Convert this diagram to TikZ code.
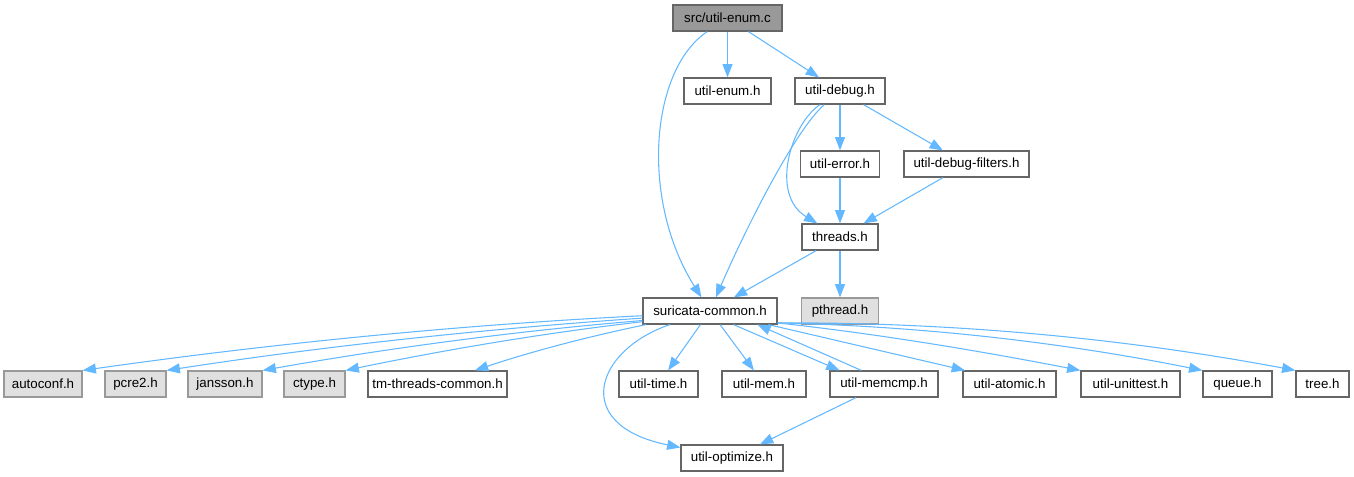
\documentclass[tikz,border=0pt]{standalone}
\usepackage{fontspec}
\setmainfont{Liberation Sans}
\usetikzlibrary{arrows.meta}
\definecolor{edgeblue}{RGB}{99,184,255}
\definecolor{boxline}{RGB}{102,102,102}
\definecolor{extline}{RGB}{153,153,153}
\definecolor{extfill}{RGB}{224,224,224}
\definecolor{rootfill}{RGB}{153,153,153}

\begin{document}
\begin{tikzpicture}[x=0.75pt,y=0.75pt,yscale=-1,xscale=1,
  file/.style={draw=boxline,fill=white,line width=0.9pt,minimum height=19.5pt,inner xsep=1pt,font=\fontsize{10}{12}\selectfont},
  sysfile/.style={file,draw=extline,fill=extfill},
  rootfile/.style={file,fill=rootfill},
  bw/.style={minimum width=#1*0.75pt},
  incl/.style={draw=edgeblue,line width=0.8pt,-{Triangle[length=10pt,width=7.5pt]}}]
\useasboundingbox (0,0) rectangle (1354,476);

%Files: top rows
\node[rootfile,bw=109] (enumc) at (727.5,18) {src/util-enum.c};
\node[file,bw=87] (enumh) at (727.5,91) {util-enum.h};
\node[file,bw=90] (debugh) at (840,91) {util-debug.h};
\node[file,bw=79] (errorh) at (840,164) {util-error.h};
\node[file,bw=125] (filtersh) at (966.5,164) {util-debug-filters.h};
\node[file,bw=76] (threadsh) at (840,237) {threads.h};
\node[file,bw=134] (commonh) at (710,311) {suricata-common.h};
\node[sysfile,bw=77] (pthreadh) at (840,311) {pthread.h};

%Files: bottom rows
\node[sysfile,bw=78] (autoconfh) at (43,384) {autoconf.h};
\node[sysfile,bw=61] (pcreh) at (135.5,384) {pcre2.h};
\node[sysfile,bw=74] (janssonh) at (225,384) {jansson.h};
\node[sysfile,bw=61] (ctypeh) at (314.5,384) {ctype.h};
\node[file,bw=139] (tmthreadsh) at (437.5,384) {tm-threads-common.h};
\node[file,bw=79] (timeh) at (658.5,384) {util-time.h};
\node[file,bw=84] (memh) at (764,384) {util-mem.h};
\node[file,bw=108] (memcmph) at (884,384) {util-memcmp.h};
\node[file,bw=93] (atomich) at (1009.5,384) {util-atomic.h};
\node[file,bw=99] (unittesth) at (1130.5,384) {util-unittest.h};
\node[file,bw=69] (queueh) at (1237.5,384) {queue.h};
\node[file,bw=53] (treeh) at (1322.5,384) {tree.h};
\node[file,bw=102] (optimizeh) at (732,458) {util-optimize.h};

%Includes of src/util-enum.c and util-debug.h
\draw[incl] (enumc) .. controls (650,70) and (640,200) .. (commonh);
\draw[incl] (enumc) -- (enumh);
\draw[incl] (enumc) -- (debugh);
\draw[incl] (debugh) .. controls (795,130) and (745,230) .. (commonh);
\draw[incl] (debugh) .. controls (790,125) and (770,195) .. (threadsh);
\draw[incl] (debugh) -- (errorh);
\draw[incl] (debugh) -- (filtersh);
\draw[incl] (errorh) -- (threadsh);
\draw[incl] (filtersh) -- (threadsh);
\draw[incl] (threadsh) -- (commonh);
\draw[incl] (threadsh) -- (pthreadh);

%Includes of suricata-common.h
\draw[incl] (commonh.184) .. controls (456,325) and (269,344) .. (autoconfh.north east);
\draw[incl] (commonh.186) .. controls (484,329) and (325,346) .. (pcreh.north east);
\draw[incl] (commonh.188) .. controls (516,331) and (389,348) .. (janssonh.north east);
\draw[incl] (commonh.189) .. controls (544,333) and (444,350) .. (ctypeh.north east);
\draw[incl] (commonh.192) .. controls (586,337) and (530,352) .. (tmthreadsh.20);
\draw[incl] (commonh) .. controls (595,350) and (570,425) .. (optimizeh);
\draw[incl] (commonh) -- (timeh);
\draw[incl] (commonh) -- (memh);
\draw[incl] (commonh.-30) -- (memcmph.163);
\draw[incl] (commonh) -- (atomich.163);
\draw[incl] (commonh.-10) .. controls (879,334) and (980,351) .. (unittesth.north west);
\draw[incl] (commonh.-10) .. controls (919,326) and (1061,342) .. (queueh.north west);
\draw[incl] (commonh.-10) .. controls (950,322) and (1123,338) .. (treeh.north west);

%Includes of util-memcmp.h
\draw[incl] (memcmph.149) -- (commonh.-16);
\draw[incl] (memcmph) -- (optimizeh);

\end{tikzpicture}
\end{document}
